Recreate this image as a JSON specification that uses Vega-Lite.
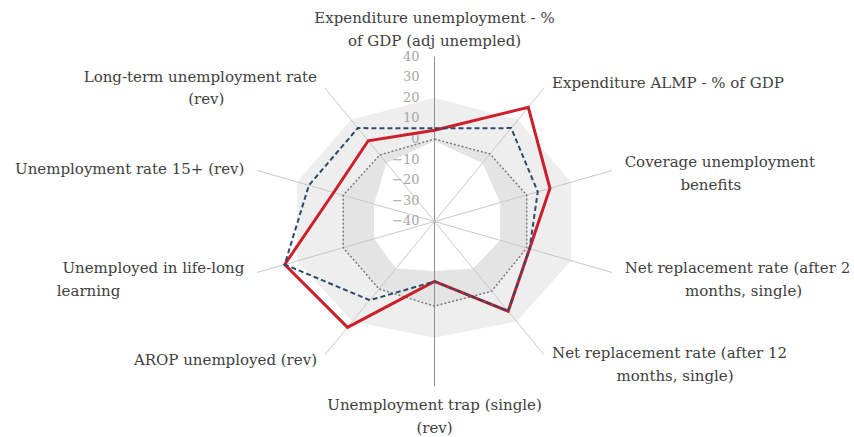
{
  "$schema": "https://vega.github.io/schema/vega-lite/v6.json",
  "width": 854,
  "height": 437,
  "autosize": {"type": "fit", "contains": "padding"},
  "padding": 0,
  "background": "white",
  "config": {"view": {"stroke": null}},
  "datasets": {
    "series": [
      {"series": "Country", "cat": 0, "value": 4.3},
      {"series": "Country", "cat": 1, "value": 28.5},
      {"series": "Country", "cat": 2, "value": 12.1},
      {"series": "Country", "cat": 3, "value": 2.9},
      {"series": "Country", "cat": 4, "value": 13.8},
      {"series": "Country", "cat": 5, "value": -10.9},
      {"series": "Country", "cat": 6, "value": 23.5},
      {"series": "Country", "cat": 7, "value": 27.6},
      {"series": "Country", "cat": 8, "value": 5.5},
      {"series": "Country", "cat": 9, "value": 8.4},
      {"series": "Best", "cat": 0, "value": 5.2},
      {"series": "Best", "cat": 1, "value": 16},
      {"series": "Best", "cat": 2, "value": 6.6},
      {"series": "Best", "cat": 3, "value": 2.9},
      {"series": "Best", "cat": 4, "value": 13.8},
      {"series": "Best", "cat": 5, "value": -10.9},
      {"series": "Best", "cat": 6, "value": 7.2},
      {"series": "Best", "cat": 7, "value": 27.6},
      {"series": "Best", "cat": 8, "value": 16.7},
      {"series": "Best", "cat": 9, "value": 16},
      {"series": "Average", "cat": 0, "value": 0},
      {"series": "Average", "cat": 1, "value": 0.5},
      {"series": "Average", "cat": 2, "value": 1.6},
      {"series": "Average", "cat": 3, "value": 1.6},
      {"series": "Average", "cat": 4, "value": 1.8},
      {"series": "Average", "cat": 5, "value": 1.1},
      {"series": "Average", "cat": 6, "value": 0.5},
      {"series": "Average", "cat": 7, "value": 1.2},
      {"series": "Average", "cat": 8, "value": 1.2},
      {"series": "Average", "cat": 9, "value": -0.1}
    ],
    "bands": [
      {"band": "outer", "cat": 0, "value": 20},
      {"band": "outer", "cat": 1, "value": 21},
      {"band": "outer", "cat": 2, "value": 21.6},
      {"band": "outer", "cat": 3, "value": 21.6},
      {"band": "outer", "cat": 4, "value": 20},
      {"band": "outer", "cat": 5, "value": 16.4},
      {"band": "outer", "cat": 6, "value": 20},
      {"band": "outer", "cat": 7, "value": 22},
      {"band": "outer", "cat": 8, "value": 22},
      {"band": "outer", "cat": 9, "value": 21},
      {"band": "mid", "cat": 0, "value": 0},
      {"band": "mid", "cat": 1, "value": 0.5},
      {"band": "mid", "cat": 2, "value": 1.6},
      {"band": "mid", "cat": 3, "value": 1.6},
      {"band": "mid", "cat": 4, "value": 1.8},
      {"band": "mid", "cat": 5, "value": 1.1},
      {"band": "mid", "cat": 6, "value": 0.5},
      {"band": "mid", "cat": 7, "value": 1.2},
      {"band": "mid", "cat": 8, "value": 1.2},
      {"band": "mid", "cat": 9, "value": -0.1},
      {"band": "inner", "cat": 0, "value": -1},
      {"band": "inner", "cat": 1, "value": -5},
      {"band": "inner", "cat": 2, "value": -10.4},
      {"band": "inner", "cat": 3, "value": -10.4},
      {"band": "inner", "cat": 4, "value": -11.8},
      {"band": "inner", "cat": 5, "value": -16},
      {"band": "inner", "cat": 6, "value": -11.8},
      {"band": "inner", "cat": 7, "value": -12.7},
      {"band": "inner", "cat": 8, "value": -12.7},
      {"band": "inner", "cat": 9, "value": -5}
    ],
    "categories": [
      {"cat": 0, "label": "Expenditure unemployment - %\nof GDP (adj unempled)"},
      {"cat": 1, "label": "Expenditure ALMP - % of GDP"},
      {"cat": 2, "label": "Coverage unemployment\nbenefits"},
      {"cat": 3, "label": "Net replacement rate (after 2\nmonths, single)"},
      {"cat": 4, "label": "Net replacement rate (after 12\nmonths, single)"},
      {"cat": 5, "label": "Unemployment trap (single)\n(rev)"},
      {"cat": 6, "label": "AROP unemployed (rev)"},
      {"cat": 7, "label": "Unemployed in life-long\nlearning"},
      {"cat": 8, "label": "Unemployment rate 15+ (rev)"},
      {"cat": 9, "label": "Long-term unemployment rate\n(rev)"}
    ],
    "ticks": [
      {"tick": -40}, {"tick": -30}, {"tick": -20}, {"tick": -10}, {"tick": 0},
      {"tick": 10}, {"tick": 20}, {"tick": 30}, {"tick": 40}
    ]
  },
  "layer": [
    {
      "data": {"name": "bands"},
      "transform": [
        {"filter": "datum.band == 'outer'"},
        {"calculate": "datum.cat*PI/5", "as": "a"},
        {"calculate": "(datum.value+40)*sin(datum.a)", "as": "x"},
        {"calculate": "(datum.value+40)*cos(datum.a)", "as": "y"}
      ],
      "mark": {"type": "line", "interpolate": "linear-closed", "fill": "#eeeeee", "stroke": "#eeeeee", "strokeWidth": 0},
      "encoding": {
        "x": {"field": "x", "type": "quantitative", "scale": {"domain": [-186.48, 180.04], "nice": false, "zero": false}, "axis": null},
        "y": {"field": "y", "type": "quantitative", "scale": {"domain": [-103.13, 107.47], "nice": false, "zero": false}, "axis": null},
        "order": {"field": "cat", "type": "quantitative"}
      }
    },
    {
      "data": {"name": "bands"},
      "transform": [
        {"filter": "datum.band == 'mid'"},
        {"calculate": "datum.cat*PI/5", "as": "a"},
        {"calculate": "(datum.value+40)*sin(datum.a)", "as": "x"},
        {"calculate": "(datum.value+40)*cos(datum.a)", "as": "y"}
      ],
      "mark": {"type": "line", "interpolate": "linear-closed", "fill": "#e4e4e4", "stroke": "#e4e4e4", "strokeWidth": 0},
      "encoding": {
        "x": {"field": "x", "type": "quantitative", "scale": {"domain": [-186.48, 180.04], "nice": false, "zero": false}, "axis": null},
        "y": {"field": "y", "type": "quantitative", "scale": {"domain": [-103.13, 107.47], "nice": false, "zero": false}, "axis": null},
        "order": {"field": "cat", "type": "quantitative"}
      }
    },
    {
      "data": {"name": "bands"},
      "transform": [
        {"filter": "datum.band == 'inner'"},
        {"calculate": "datum.cat*PI/5", "as": "a"},
        {"calculate": "(datum.value+40)*sin(datum.a)", "as": "x"},
        {"calculate": "(datum.value+40)*cos(datum.a)", "as": "y"}
      ],
      "mark": {"type": "line", "interpolate": "linear-closed", "fill": "#ffffff", "stroke": "#ffffff", "strokeWidth": 0},
      "encoding": {
        "x": {"field": "x", "type": "quantitative", "scale": {"domain": [-186.48, 180.04], "nice": false, "zero": false}, "axis": null},
        "y": {"field": "y", "type": "quantitative", "scale": {"domain": [-103.13, 107.47], "nice": false, "zero": false}, "axis": null},
        "order": {"field": "cat", "type": "quantitative"}
      }
    },
    {
      "data": {"name": "categories"},
      "transform": [
        {"calculate": "datum.cat*PI/5", "as": "a"},
        {"calculate": "80*sin(datum.a)", "as": "x"},
        {"calculate": "80*cos(datum.a)", "as": "y"},
        {"calculate": "0", "as": "x0"},
        {"calculate": "0", "as": "y0"}
      ],
      "mark": {"type": "rule", "strokeWidth": 1},
      "encoding": {
        "x": {"field": "x", "type": "quantitative", "scale": {"domain": [-186.48, 180.04], "nice": false, "zero": false}, "axis": null},
        "y": {"field": "y", "type": "quantitative", "scale": {"domain": [-103.13, 107.47], "nice": false, "zero": false}, "axis": null},
        "x2": {"field": "x0"},
        "y2": {"field": "y0"},
        "color": {"condition": {"test": "datum.cat == 0 || datum.cat == 5", "value": "#8f8f8f"}, "value": "#c9c9c9"}
      }
    },
    {
      "data": {"name": "ticks"},
      "transform": [
        {"calculate": "0", "as": "x"},
        {"calculate": "datum.tick + 40", "as": "y"}
      ],
      "mark": {"type": "text", "align": "right", "baseline": "middle", "dx": -15, "font": "DejaVu Serif", "fontSize": 13, "color": "#a6a6a6"},
      "encoding": {
        "x": {"field": "x", "type": "quantitative", "scale": {"domain": [-186.48, 180.04], "nice": false, "zero": false}, "axis": null},
        "y": {"field": "y", "type": "quantitative", "scale": {"domain": [-103.13, 107.47], "nice": false, "zero": false}, "axis": null},
        "text": {"field": "tick", "type": "quantitative"}
      }
    },
    {
      "data": {"name": "series"},
      "transform": [
        {"filter": "datum.series == 'Average'"},
        {"calculate": "datum.cat*PI/5", "as": "a"},
        {"calculate": "(datum.value+40)*sin(datum.a)", "as": "x"},
        {"calculate": "(datum.value+40)*cos(datum.a)", "as": "y"}
      ],
      "mark": {"type": "line", "interpolate": "linear-closed", "stroke": "#7a7a7a", "strokeWidth": 1.5, "strokeDash": [2, 2]},
      "encoding": {
        "x": {"field": "x", "type": "quantitative", "scale": {"domain": [-186.48, 180.04], "nice": false, "zero": false}, "axis": null},
        "y": {"field": "y", "type": "quantitative", "scale": {"domain": [-103.13, 107.47], "nice": false, "zero": false}, "axis": null},
        "order": {"field": "cat", "type": "quantitative"}
      }
    },
    {
      "data": {"name": "series"},
      "transform": [
        {"filter": "datum.series == 'Country'"},
        {"calculate": "datum.cat*PI/5", "as": "a"},
        {"calculate": "(datum.value+40)*sin(datum.a)", "as": "x"},
        {"calculate": "(datum.value+40)*cos(datum.a)", "as": "y"}
      ],
      "mark": {"type": "line", "interpolate": "linear-closed", "stroke": "#cc1f2a", "strokeWidth": 3},
      "encoding": {
        "x": {"field": "x", "type": "quantitative", "scale": {"domain": [-186.48, 180.04], "nice": false, "zero": false}, "axis": null},
        "y": {"field": "y", "type": "quantitative", "scale": {"domain": [-103.13, 107.47], "nice": false, "zero": false}, "axis": null},
        "order": {"field": "cat", "type": "quantitative"}
      }
    },
    {
      "data": {"name": "series"},
      "transform": [
        {"filter": "datum.series == 'Best'"},
        {"calculate": "datum.cat*PI/5", "as": "a"},
        {"calculate": "(datum.value+40)*sin(datum.a)", "as": "x"},
        {"calculate": "(datum.value+40)*cos(datum.a)", "as": "y"}
      ],
      "mark": {"type": "line", "interpolate": "linear-closed", "stroke": "#2e4a6b", "strokeWidth": 2, "strokeDash": [5, 3]},
      "encoding": {
        "x": {"field": "x", "type": "quantitative", "scale": {"domain": [-186.48, 180.04], "nice": false, "zero": false}, "axis": null},
        "y": {"field": "y", "type": "quantitative", "scale": {"domain": [-103.13, 107.47], "nice": false, "zero": false}, "axis": null},
        "order": {"field": "cat", "type": "quantitative"}
      }
    },
    {
      "data": {"name": "categories"},
      "transform": [
        {"calculate": "datum.cat*PI/5", "as": "a"},
        {"filter": "sin(datum.a) > 0.1"},
        {"calculate": "split(datum.label, '\\n')[0]", "as": "t1"},
        {"calculate": "85.8*sin(datum.a)", "as": "x"},
        {"calculate": "82.9*cos(datum.a) + (indexof(datum.label, '\\n') >= 0 ? 3.2 : 0)", "as": "y"}
      ],
      "mark": {"type": "text", "align": "left", "baseline": "middle", "font": "DejaVu Serif", "fontSize": 15, "color": "#404040"},
      "encoding": {
        "x": {"field": "x", "type": "quantitative", "scale": {"domain": [-186.48, 180.04], "nice": false, "zero": false}, "axis": null},
        "y": {"field": "y", "type": "quantitative", "scale": {"domain": [-103.13, 107.47], "nice": false, "zero": false}, "axis": null},
        "text": {"field": "t1"}
      }
    },
    {
      "data": {"name": "categories"},
      "transform": [
        {"calculate": "datum.cat*PI/5", "as": "a"},
        {"filter": "sin(datum.a) > 0.1 && indexof(datum.label, '\\n') >= 0"},
        {"calculate": "split(datum.label, '\\n')[0]", "as": "t1"},
        {"calculate": "split(datum.label, '\\n')[1]", "as": "t2"},
        {"calculate": "85.8*sin(datum.a) + length(datum.t1)*3.52/2", "as": "x"},
        {"calculate": "82.9*cos(datum.a) + 3.2 - 11.08", "as": "y"}
      ],
      "mark": {"type": "text", "align": "center", "baseline": "middle", "font": "DejaVu Serif", "fontSize": 15, "color": "#404040"},
      "encoding": {
        "x": {"field": "x", "type": "quantitative", "scale": {"domain": [-186.48, 180.04], "nice": false, "zero": false}, "axis": null},
        "y": {"field": "y", "type": "quantitative", "scale": {"domain": [-103.13, 107.47], "nice": false, "zero": false}, "axis": null},
        "text": {"field": "t2"}
      }
    },
    {
      "data": {"name": "categories"},
      "transform": [
        {"calculate": "datum.cat*PI/5", "as": "a"},
        {"filter": "sin(datum.a) < -0.1"},
        {"calculate": "split(datum.label, '\\n')[0]", "as": "t1"},
        {"calculate": "85.8*sin(datum.a)", "as": "x"},
        {"calculate": "82.9*cos(datum.a) + (indexof(datum.label, '\\n') >= 0 ? 3.2 : 0)", "as": "y"}
      ],
      "mark": {"type": "text", "align": "right", "baseline": "middle", "font": "DejaVu Serif", "fontSize": 15, "color": "#404040"},
      "encoding": {
        "x": {"field": "x", "type": "quantitative", "scale": {"domain": [-186.48, 180.04], "nice": false, "zero": false}, "axis": null},
        "y": {"field": "y", "type": "quantitative", "scale": {"domain": [-103.13, 107.47], "nice": false, "zero": false}, "axis": null},
        "text": {"field": "t1"}
      }
    },
    {
      "data": {"name": "categories"},
      "transform": [
        {"calculate": "datum.cat*PI/5", "as": "a"},
        {"filter": "sin(datum.a) < -0.1 && indexof(datum.label, '\\n') >= 0"},
        {"calculate": "split(datum.label, '\\n')[0]", "as": "t1"},
        {"calculate": "split(datum.label, '\\n')[1]", "as": "t2"},
        {"calculate": "datum.cat == 7 ? 85.8*sin(datum.a) - length(datum.t1)*3.52 + length(datum.t2)*3.52/2 : 85.8*sin(datum.a) - length(datum.t1)*3.52/2", "as": "x"},
        {"calculate": "82.9*cos(datum.a) + 3.2 - 11.08", "as": "y"}
      ],
      "mark": {"type": "text", "align": "center", "baseline": "middle", "font": "DejaVu Serif", "fontSize": 15, "color": "#404040"},
      "encoding": {
        "x": {"field": "x", "type": "quantitative", "scale": {"domain": [-186.48, 180.04], "nice": false, "zero": false}, "axis": null},
        "y": {"field": "y", "type": "quantitative", "scale": {"domain": [-103.13, 107.47], "nice": false, "zero": false}, "axis": null},
        "text": {"field": "t2"}
      }
    },
    {
      "data": {"name": "categories"},
      "transform": [
        {"calculate": "datum.cat*PI/5", "as": "a"},
        {"filter": "cos(datum.a) > 0.9"},
        {"calculate": "0", "as": "x"},
        {"calculate": "82.9*cos(datum.a) + 15.9", "as": "y"}
      ],
      "mark": {"type": "text", "align": "center", "baseline": "middle", "lineBreak": "\n", "lineHeight": 23, "font": "DejaVu Serif", "fontSize": 15, "color": "#404040"},
      "encoding": {
        "x": {"field": "x", "type": "quantitative", "scale": {"domain": [-186.48, 180.04], "nice": false, "zero": false}, "axis": null},
        "y": {"field": "y", "type": "quantitative", "scale": {"domain": [-103.13, 107.47], "nice": false, "zero": false}, "axis": null},
        "text": {"field": "label"}
      }
    },
    {
      "data": {"name": "categories"},
      "transform": [
        {"calculate": "datum.cat*PI/5", "as": "a"},
        {"filter": "cos(datum.a) < -0.9"},
        {"calculate": "0", "as": "x"},
        {"calculate": "82.9*cos(datum.a) - 6.3", "as": "y"}
      ],
      "mark": {"type": "text", "align": "center", "baseline": "middle", "lineBreak": "\n", "lineHeight": 23, "font": "DejaVu Serif", "fontSize": 15, "color": "#404040"},
      "encoding": {
        "x": {"field": "x", "type": "quantitative", "scale": {"domain": [-186.48, 180.04], "nice": false, "zero": false}, "axis": null},
        "y": {"field": "y", "type": "quantitative", "scale": {"domain": [-103.13, 107.47], "nice": false, "zero": false}, "axis": null},
        "text": {"field": "label"}
      }
    }
  ]
}
